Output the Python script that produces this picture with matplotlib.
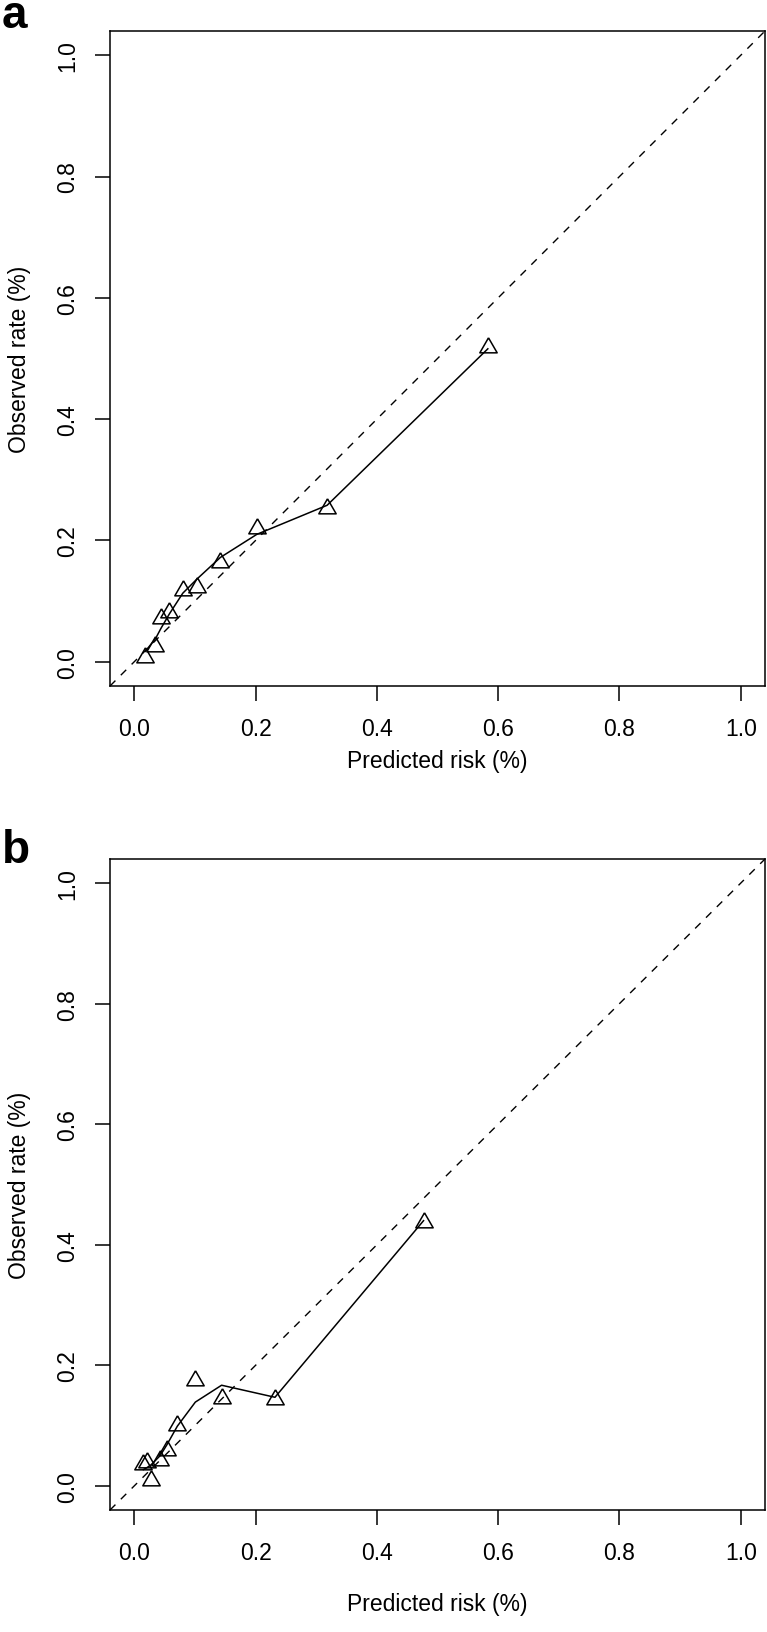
import matplotlib
matplotlib.use('Agg')
import matplotlib.pyplot as plt

plt.rcParams['font.family'] = ['Liberation Sans', 'DejaVu Sans']

# 图 a：分组预测风险 vs 实际发生率
a_pred = [0.018, 0.035, 0.044, 0.058, 0.080, 0.103, 0.142, 0.202, 0.318, 0.583]
a_obs = [0.010, 0.0275, 0.073, 0.084, 0.120, 0.125, 0.166, 0.2215, 0.2545, 0.520]
a_smooth = [0.017, 0.038, 0.055, 0.079, 0.113, 0.136, 0.172, 0.210, 0.258, 0.516]

# 图 b
b_pred = [0.015, 0.0205, 0.0277, 0.0426, 0.0537, 0.071, 0.1007, 0.144, 0.232, 0.477]
b_obs = [0.0386, 0.041, 0.012, 0.045, 0.062, 0.103, 0.178, 0.1475, 0.146, 0.44]
b_smooth = [0.027, 0.030, 0.035, 0.050, 0.068, 0.099, 0.139, 0.167, 0.147, 0.44]

ticks = [0.0, 0.2, 0.4, 0.6, 0.8, 1.0]
tick_labels = ['0.0', '0.2', '0.4', '0.6', '0.8', '1.0']

W, H = 767, 1633
fig = plt.figure(figsize=(W / 100, H / 100), dpi=100)

tri = [(0, 1.0), (-1.0, -0.73), (1.0, -0.73), (0, 1.0)]


def panel(rect_px, pred, obs, smooth, letter, letter_base, xpad):
    x0, y0, x1, y1 = rect_px
    ax = fig.add_axes([x0 / W, 1 - y1 / H, (x1 - x0) / W, (y1 - y0) / H])
    ax.axline((0, 0), (1, 1), color='black', lw=1.0, dashes=(5.5, 5.5))
    ax.plot(pred, smooth, color='black', lw=1.1)
    ax.plot(pred, obs, linestyle='none', marker=tri, ms=12.5,
            mfc='none', mec='black', mew=1.1)
    ax.set_xlim(-0.04, 1.04)
    ax.set_ylim(-0.04, 1.04)
    ax.set_xticks(ticks)
    ax.set_xticklabels(tick_labels)
    ax.set_yticks(ticks)
    ax.set_yticklabels(tick_labels, rotation=90, va='center')
    ax.tick_params(length=10.5, width=1.1, labelsize=16.5, color='black')
    ax.tick_params(axis='x', pad=12)
    ax.tick_params(axis='y', pad=12)
    for sp in ax.spines.values():
        sp.set_linewidth(1.1)
    ax.set_xlabel('Predicted risk (%)', fontsize=16.5, labelpad=xpad)
    ax.set_ylabel('Observed rate (%)', fontsize=16.5, labelpad=18)
    fig.text(2 / W, 1 - letter_base / H, letter, fontsize=33, fontweight='bold',
             ha='left', va='baseline')
    return ax


panel((110, 32, 765, 687), a_pred, a_obs, a_smooth, 'a', 28, 6)
panel((110, 860, 765, 1511), b_pred, b_obs, b_smooth, 'b', 863, 20)

fig.savefig('out.png', dpi=100, facecolor='white')
